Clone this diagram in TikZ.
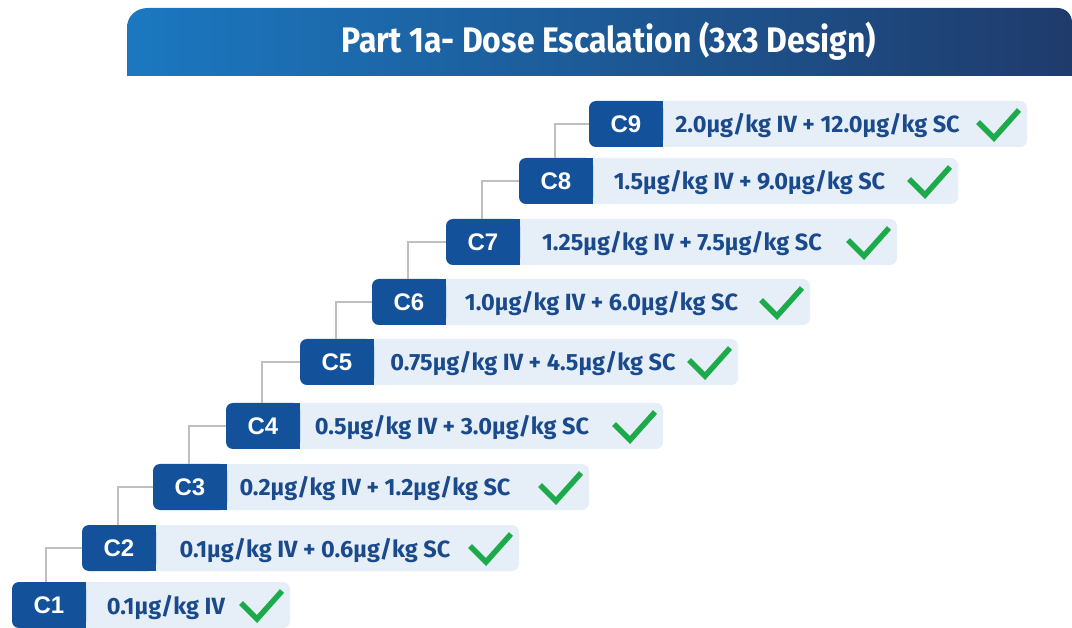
\documentclass[tikz,border=0pt]{standalone}
\usepackage{fontspec}
\usetikzlibrary{calc}
\newfontfamily\dosefont{Fira Sans}
\newfontfamily\labfont{Liberation Sans}
\newfontfamily\titlefont[FakeStretch=0.9]{Fira Sans}
\definecolor{darkb}{HTML}{14519B}
\definecolor{lightb}{HTML}{E6EFF8}
\definecolor{dosetext}{HTML}{1A4A8C}
\definecolor{chk}{HTML}{1DAA4B}
\definecolor{conng}{HTML}{BFBFBF}
\definecolor{hdrL}{HTML}{1B78C0}
\definecolor{hdrR}{HTML}{1F3B6C}
\tikzset{
  x=1pt, y=-1pt,
  lightbox/.style={fill=lightb, rounded corners=7pt},
  darkbox/.style={fill=darkb, rounded corners=7pt},
  lab/.style={inner sep=0pt, outer sep=0pt, minimum width=74pt, minimum height=46pt,
    text=white, font=\labfont\bfseries\fontsize{24}{26}\selectfont},
  dose/.style={inner sep=0pt, outer sep=0pt, text=dosetext,
    font=\dosefont\bfseries\fontsize{23.5}{26}\selectfont},
  check/.style={draw=chk, line width=5.5pt, line join=miter, line cap=butt},
  conn/.style={draw=conng, line width=1.4pt},
  titletext/.style={text=white, inner sep=0pt, font=\titlefont\bfseries\fontsize{35.5}{38}\selectfont}
}
% #1 name, #2 label, #3 left, #4 top, #5 right end, #6 text centre x, #7 text
\newcommand\dosrow[7]{%
  \fill[lightbox] (#3,#4) rectangle (#5,#4+46);
  \fill[darkbox] (#3,#4) rectangle (#3+74,#4+46);
  \fill[darkb] (#3+37,#4) rectangle (#3+74,#4+46);
  \node[lab] (#1) at (#3+37,#4+23) {#2};
  \node[dose, anchor=base] (#1t) at (#6,#4+32) {#7};
  \draw[check] (#5-49,#4+21) -- (#5-33,#4+37) -- (#5-8,#4+9);
}
\begin{document}
\begin{tikzpicture}
\useasboundingbox (0,0) rectangle (1072,628);
% header
\shade[left color=hdrL, right color=hdrR]
  (127,76) -- (127,28) .. controls (127,16) and (136,8) .. (148,8)
  -- (1057,8) .. controls (1066,8) and (1072,14) .. (1072,23) -- (1072,76) -- cycle;
\node[titletext, anchor=base] (title) at (609,53) {Part 1a- Dose Escalation (3x3 Design)};
% rows
\dosrow{c9}{C9}{589}{101}{1027}{817.5}{2.0µg/kg IV + 12.0µg/kg SC}
\dosrow{c8}{C8}{519}{158}{958}{749.5}{1.5µg/kg IV + 9.0µg/kg SC}
\dosrow{c7}{C7}{446}{219}{897}{682}{1.25µg/kg IV + 7.5µg/kg SC}
\dosrow{c6}{C6}{372}{279}{810}{601.5}{1.0µg/kg IV + 6.0µg/kg SC}
\dosrow{c5}{C5}{300}{339}{738}{533}{0.75µg/kg IV + 4.5µg/kg SC}
\dosrow{c4}{C4}{226}{403}{663}{452}{0.5µg/kg IV + 3.0µg/kg SC}
\dosrow{c3}{C3}{153}{464}{589}{375}{0.2µg/kg IV + 1.2µg/kg SC}
\dosrow{c2}{C2}{82}{525}{519}{315}{0.1µg/kg IV + 0.6µg/kg SC}
\dosrow{c1}{C1}{12}{582}{290}{166}{0.1µg/kg IV}
% connectors
\draw[conn] (c9.west) -| ($(c8.north west)+(36,0)$);
\draw[conn] (c8.west) -| ($(c7.north west)+(36,0)$);
\draw[conn] (c7.west) -| ($(c6.north west)+(36,0)$);
\draw[conn] (c6.west) -| ($(c5.north west)+(36,0)$);
\draw[conn] (c5.west) -| ($(c4.north west)+(36,0)$);
\draw[conn] (c4.west) -| ($(c3.north west)+(36,0)$);
\draw[conn] (c3.west) -| ($(c2.north west)+(36,0)$);
\draw[conn] (c2.west) -| ($(c1.north west)+(34,0)$);
\end{tikzpicture}
\end{document}
